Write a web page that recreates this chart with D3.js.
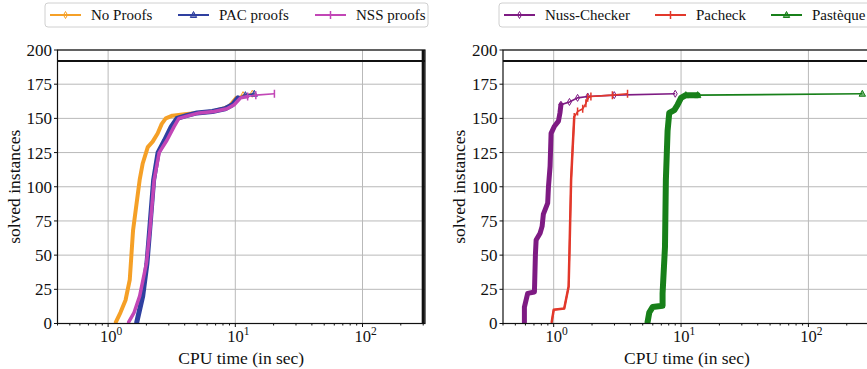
<!DOCTYPE html>
<html>
<head>
<meta charset="utf-8">
<script src="https://cdn.jsdelivr.net/npm/d3@7"></script>
<style>
  body { margin: 0; background: #fff; }
</style>
</head>
<body>
<div id="chart"></div>
<script>
// ---- data ----
const noProofsTime   = [1.15, 1.25, 1.37, 1.48, 1.57, 1.77, 1.87, 2.05, 2.24, 2.45, 2.64, 2.84, 3.2, 4.0, 5.0, 6.6, 8.0, 9.0, 10.2, 11.5, 13.6];
const noProofsSolved = [1, 8, 17, 32, 68, 105, 117, 129, 133, 139, 146, 150, 152, 153, 154, 155, 157, 159, 165, 167, 168];

const pacTime   = [1.68, 1.87, 2.02, 2.12, 2.28, 2.47, 2.78, 3.14, 3.48, 4.12, 5.0, 6.6, 8.3, 9.5, 10.5, 12, 14.1];
const pacSolved = [1, 20, 44, 68, 105, 125, 134, 144, 150, 152, 154, 155, 157, 160, 165, 167, 168];

const nssTime   = [1.45, 1.6, 1.77, 2.0, 2.13, 2.3, 2.52, 2.9, 3.3, 3.6, 4.3, 5.2, 6.8, 8.6, 9.8, 11, 12.5, 14.5, 20.3];
const nssSolved = [1, 8, 20, 44, 68, 105, 125, 134, 144, 150, 152, 154, 155, 157, 160, 165, 166, 167, 168];

const nussTime   = [0.589, 0.589, 0.625, 0.706, 0.719, 0.728, 0.782, 0.811, 0.83, 0.897, 0.91, 0.937, 0.954, 1.01, 1.09, 1.12, 1.14, 1.33, 1.54, 1.85, 2.99, 9.0];
const nussSolved = [1, 12, 22, 23, 51, 61, 66, 71, 80, 88, 100, 115, 139, 144, 148, 154, 160, 162, 165, 166, 167, 168];

const pacheckTime   = [0.965, 1.0, 1.21, 1.31, 1.33, 1.37, 1.41, 1.45, 1.54, 1.69, 1.79, 1.85, 1.96, 2.89, 3.8];
const pacheckSolved = [1, 10, 11, 27, 52, 105, 129, 151, 155, 157, 161, 165, 166, 167, 168];

const pastequeTime   = [5.46, 5.63, 5.98, 7.16, 7.16, 7.48, 7.6, 7.84, 8.08, 8.85, 9.4, 10.0, 10.9, 13.5, 265];
const pastequeSolved = [1, 8, 12, 13, 22, 56, 105, 141, 154, 156, 160, 165, 167, 167, 168];

const totalInstances = 192;
const timeout = 300;
const yTicks = [0, 25, 50, 75, 100, 125, 150, 175, 200];
const xMajor = [1, 10, 100];

// dense: solved count up to which the markers pile up into a thick band
const leftSeries = [
  { name: "No Proofs",  time: noProofsTime, solved: noProofsSolved, color: "#f5a027", marker: "diamond",  width: 4,   dense: 166 },
  { name: "PAC proofs", time: pacTime,      solved: pacSolved,      color: "#2f40a0", marker: "triangle", width: 5,   dense: 166 },
  { name: "NSS proofs", time: nssTime,      solved: nssSolved,      color: "#c246b6", marker: "vline",    width: 3.5, dense: 166 }
];
const rightSeries = [
  { name: "Nuss-Checker", time: nussTime,     solved: nussSolved,     color: "#7e1b83", marker: "diamond",  width: 5,   dense: 160 },
  { name: "Pacheck",      time: pacheckTime,  solved: pacheckSolved,  color: "#e2382b", marker: "vline",    width: 2.5, dense: 151 },
  { name: "Pastèque",     time: pastequeTime, solved: pastequeSolved, color: "#18801a", marker: "triangle", width: 6,   dense: 167 }
];

const FONT = '"Liberation Serif"';

// ---- layout ----
const W = 867, H = 369;
const svg = d3.select("#chart").append("svg").attr("width", W).attr("height", H);

const y = d3.scaleLinear().domain([0, 200]).range([323.5, 50]);

function txt(sel, size) {
  return sel.style("font-family", FONT).attr("font-size", size).attr("fill", "#111");
}

function marker(g, type, cx, cy, color) {
  if (type === "diamond") {
    g.append("path").attr("d", `M${cx},${cy - 3.5}L${cx + 2},${cy}L${cx},${cy + 3.5}L${cx - 2},${cy}Z`)
      .attr("fill", "none").attr("stroke", color).attr("stroke-width", 1);
  } else if (type === "triangle") {
    g.append("path").attr("d", `M${cx},${cy - 3.5}L${cx + 3.2},${cy + 2.5}L${cx - 3.2},${cy + 2.5}Z`)
      .attr("fill", color).attr("fill-opacity", 0.6).attr("stroke", color).attr("stroke-width", 1);
  } else {
    g.append("line").attr("x1", cx).attr("x2", cx).attr("y1", cy - 4).attr("y2", cy + 4)
      .attr("stroke", color).attr("stroke-width", 1.5);
  }
}

function drawPanel(x0, x1, series, legendX, legendW, showTimeout) {
  const x = d3.scaleLog().domain([0.4, 310]).range([x0, x1]);
  const g = svg.append("g");
  const clipId = "clip" + x0;
  svg.append("clipPath").attr("id", clipId).append("rect")
    .attr("x", x0).attr("y", 50).attr("width", x1 - x0).attr("height", 273.5);

  // grid
  g.selectAll(".gy").data(yTicks).enter().append("line")
    .attr("x1", x0).attr("x2", x1).attr("y1", d => y(d)).attr("y2", d => y(d))
    .attr("stroke", "#b9b9b9").attr("stroke-width", 1);
  g.selectAll(".gx").data(xMajor).enter().append("line")
    .attr("x1", d => x(d)).attr("x2", d => x(d)).attr("y1", 50).attr("y2", 323.5)
    .attr("stroke", "#b9b9b9").attr("stroke-width", 1);

  // reference lines
  g.append("line").attr("x1", x0).attr("x2", x1).attr("y1", y(totalInstances)).attr("y2", y(totalInstances))
    .attr("stroke", "#111").attr("stroke-width", 2);
  if (showTimeout) {
    g.append("line").attr("x1", x(timeout)).attr("x2", x(timeout)).attr("y1", 50).attr("y2", 323.5)
      .attr("stroke", "#111").attr("stroke-width", 3);
  }

  // curves
  const plot = g.append("g").attr("clip-path", `url(#${clipId})`);
  series.forEach(s => {
    const pts = s.time.map((t, i) => [x(t), y(s.solved[i])]);
    const line = d3.line();
    const dense = pts.filter((p, i) => s.solved[i] <= s.dense);
    plot.append("path").attr("d", line(dense)).attr("fill", "none")
      .attr("stroke", s.color).attr("stroke-width", s.width).attr("stroke-linejoin", "round").attr("stroke-linecap", "round");
    plot.append("path").attr("d", line(pts)).attr("fill", "none")
      .attr("stroke", s.color).attr("stroke-width", 1.6);
    pts.forEach((p, i) => { if (s.solved[i] >= s.dense) marker(plot, s.marker, p[0], p[1], s.color); });
  });

  // axes box
  g.append("rect").attr("x", x0).attr("y", 50).attr("width", x1 - x0).attr("height", 273.5)
    .attr("fill", "none").attr("stroke", "#111").attr("stroke-width", 1.2);

  // y ticks
  const yt = g.selectAll(".yt").data(yTicks).enter().append("g");
  yt.append("line").attr("x1", x0 - 3.5).attr("x2", x0).attr("y1", d => y(d)).attr("y2", d => y(d))
    .attr("stroke", "#111");
  txt(yt.append("text"), 17).attr("x", x0 - 5.5).attr("y", d => y(d)).attr("dy", "0.35em")
    .attr("text-anchor", "end").text(d => d);

  // x ticks
  const minor = x.ticks().filter(d => xMajor.indexOf(d) < 0);
  g.selectAll(".xm").data(minor).enter().append("line")
    .attr("x1", d => x(d)).attr("x2", d => x(d)).attr("y1", 323.5).attr("y2", 325.5).attr("stroke", "#111");
  g.selectAll(".xM").data(xMajor).enter().append("line")
    .attr("x1", d => x(d)).attr("x2", d => x(d)).attr("y1", 323.5).attr("y2", 327).attr("stroke", "#111");
  const xl = txt(g.selectAll(".xl").data(xMajor).enter().append("text"), 16.5)
    .attr("x", d => x(d) + 3).attr("y", 342).attr("text-anchor", "middle");
  xl.append("tspan").text("10");
  xl.append("tspan").attr("dy", -7).attr("font-size", 11.5).text(d => Math.round(Math.log10(d)));

  // axis labels
  txt(g.append("text"), 17.5).attr("x", (x0 + x1) / 2).attr("y", 363.5).attr("text-anchor", "middle")
    .text("CPU time (in sec)");
  txt(g.append("text"), 17.5).attr("transform", `translate(${x0 - 38},${(50 + 323.5) / 2}) rotate(-90)`)
    .attr("text-anchor", "middle").text("solved instances");

  // legend
  const lg = svg.append("g");
  lg.append("rect").attr("x", legendX).attr("y", 3).attr("width", legendW).attr("height", 24).attr("rx", 3)
    .attr("fill", "#fff").attr("stroke", "#d0d0d0").attr("stroke-width", 1);
  series.forEach(s => {
    const lx = legendX + 5 + s.offset;
    lg.append("line").attr("x1", lx).attr("x2", lx + 31).attr("y1", 15).attr("y2", 15)
      .attr("stroke", s.color).attr("stroke-width", 2);
    marker(lg, s.marker, lx + 15.5, 15, s.color);
    txt(lg.append("text"), 15).attr("x", lx + 41).attr("y", 15).attr("dy", "0.35em").text(s.name);
  });
}

leftSeries[0].offset = 0; leftSeries[1].offset = 128; leftSeries[2].offset = 265;
rightSeries[0].offset = 0; rightSeries[1].offset = 151; rightSeries[2].offset = 267;

drawPanel(57.5, 425, leftSeries, 45, 383, true);
drawPanel(503, 871, rightSeries, 499, 390, true);
</script>
</body>
</html>
